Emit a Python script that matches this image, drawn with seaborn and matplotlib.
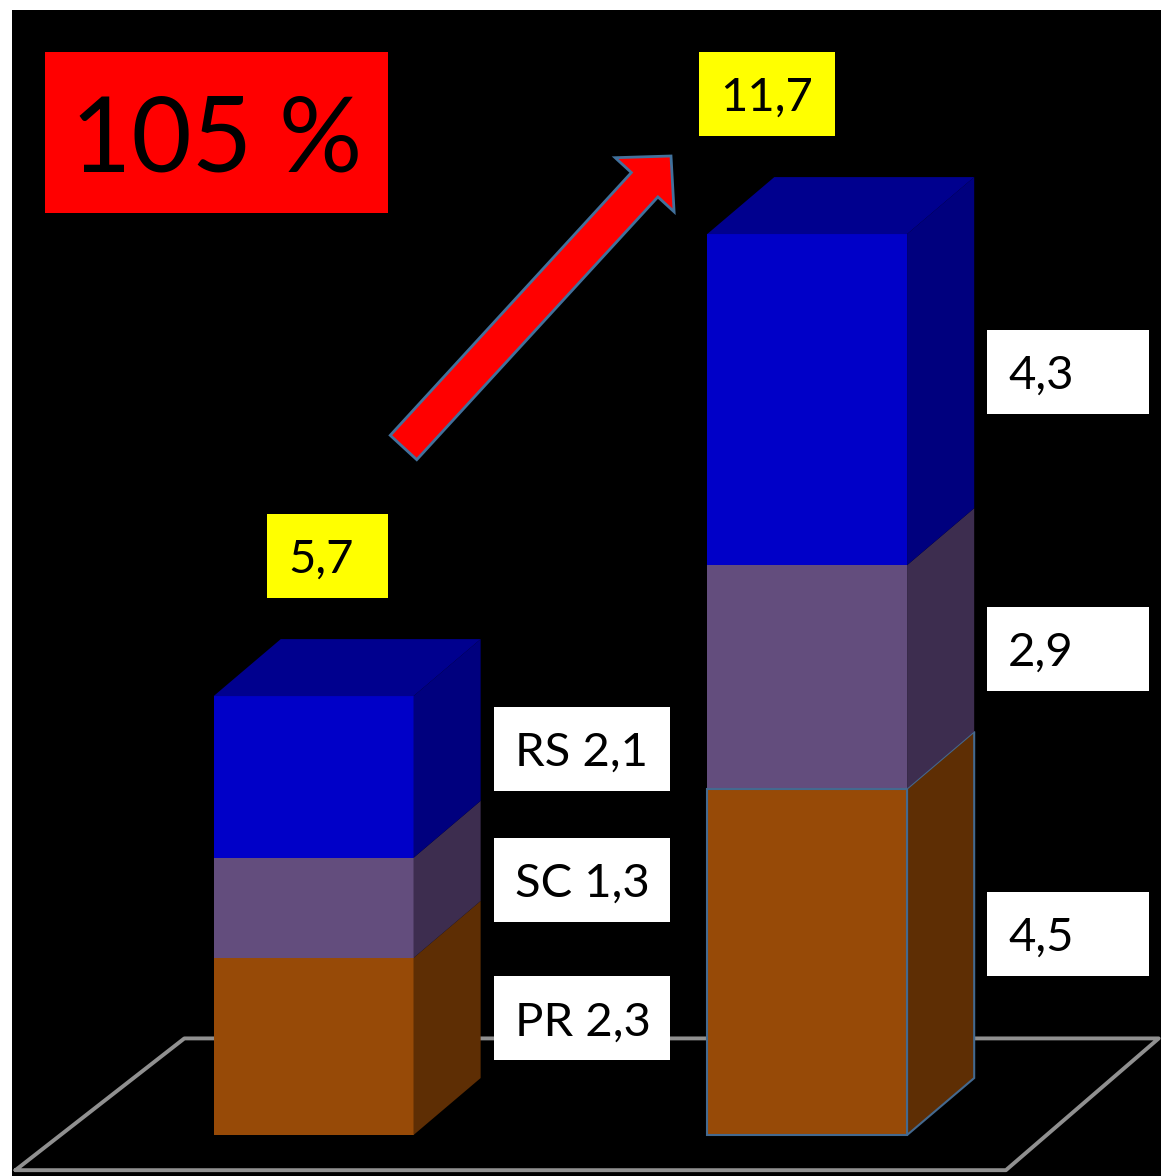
import matplotlib
matplotlib.use("Agg")
import matplotlib.pyplot as plt
import matplotlib.patches as mpatches
from matplotlib.transforms import IdentityTransform
import numpy as np
import pandas as pd
import seaborn as sns

# data
periods = ['Avant', 'Après']
segments = ['PR', 'SC', 'RS']
pr_values = [2.3, 4.5]
sc_values = [1.3, 2.9]
rs_values = [2.1, 4.3]
growth_text = '105 %'

sns.set_theme(style='white')
plt.rcParams['font.family'] = ['Lato', 'DejaVu Sans']

W, H, DPI = 1161, 1176, 100
BAR_W = 0.405
DX, DY = 0.136, 0.74          # fake 3D depth in data units

front = {'PR': '#974A07', 'SC': '#634D7D', 'RS': '#0000C8'}
side = {'PR': '#5E2E04', 'SC': '#3D2D4F', 'RS': '#00007E'}
TOP = '#00008E'


def fmt(v):
    return f'{v:.1f}'.replace('.', ',')


df = pd.DataFrame({'period': periods, 'PR': pr_values, 'SC': sc_values, 'RS': rs_values})
df['PR+SC'] = df['PR'] + df['SC']
df['total'] = df['PR+SC'] + df['RS']

fig = plt.figure(figsize=(W / DPI, H / DPI), dpi=DPI, facecolor='white')
ax = fig.add_axes([12 / W, 0, 1 - 12 / W, 1 - 10 / H])
ax.set_facecolor('black')

# stacked bars: draw cumulative sums from the tallest down
for col, c in [('total', front['RS']), ('PR+SC', front['SC']), ('PR', front['PR'])]:
    sns.barplot(data=df, x='period', y=col, color=c, saturation=1, width=BAR_W,
                errorbar=None, linewidth=0, ax=ax)

ax.set_xlim(-0.611, 1.717)
ax.set_ylim(-0.532, 14.61)
ax.set_xticks([])
ax.set_yticks([])
ax.set_xlabel('')
ax.set_ylabel('')
for s in ax.spines.values():
    s.set_visible(False)

# outline on the lower right segment
ax.patches[-1].set_edgecolor('#44698f')
ax.patches[-1].set_linewidth(1.5)

# floor (drawn behind the bars)
floor_x = [0.003, 0.865, 0.998, 0.150, 0.003]
floor_y = [0.005, 0.005, 0.118, 0.118, 0.005]
ax.plot(floor_x, floor_y, color='#909090', lw=2.8, transform=ax.transAxes, zorder=0.5)

# side and top faces
for i in range(len(periods)):
    xl, xr = i - BAR_W / 2, i + BAR_W / 2
    bottoms = [0, df['PR'][i], df['PR+SC'][i]]
    tops = [df['PR'][i], df['PR+SC'][i], df['total'][i]]
    for seg, y0, y1 in zip(segments, bottoms, tops):
        ec = '#44698f' if (seg == 'PR' and i == 1) else 'none'
        ax.add_patch(mpatches.Polygon([(xr, y0), (xr + DX, y0 + DY), (xr + DX, y1 + DY), (xr, y1)],
                                      closed=True, fc=side[seg], ec=ec, lw=1.5))
    t = tops[-1]
    ax.add_patch(mpatches.Polygon([(xl, t), (xr, t), (xr + DX, t + DY), (xl + DX, t + DY)],
                                  closed=True, fc=TOP, ec='none'))

# value labels in white boxes
idt = IdentityTransform()
LABEL_FS = 34
cap = 0.72 * LABEL_FS * DPI / 72
box_w = [176, 162]
for i in range(len(periods)):
    xr = i + BAR_W / 2
    bottoms = [0, df['PR'][i], df['PR+SC'][i]]
    for seg, y0 in zip(segments, bottoms):
        v = df[seg][i]
        mid = y0 + v / 2
        ex, ey = ax.transData.transform((xr + DX, mid))
        ey += 28
        bx = ex + 13
        ax.add_patch(mpatches.Rectangle((bx, ey - 42), box_w[i], 84, fc='white', ec='none',
                                        transform=idt, zorder=3))
        txt = f'{seg} {fmt(v)}' if i == 0 else fmt(v)
        ax.text(bx + 21, ey - cap / 2, txt, fontsize=LABEL_FS, color='black',
                ha='left', va='baseline', transform=idt, zorder=4)

# totals in yellow boxes
total_dx = [14, -40]
total_w = [121, 136]
for i in range(len(periods)):
    cx, cy = ax.transData.transform((i, df['total'][i]))
    cx += total_dx[i]
    cy += 140
    bx = cx - total_w[i] / 2
    ax.add_patch(mpatches.Rectangle((bx, cy - 42), total_w[i], 84, fc='#FFFF00', ec='none',
                                    transform=idt, zorder=3))
    ax.text(bx + 21, cy - cap / 2, fmt(df['total'][i]), fontsize=LABEL_FS, color='black',
            ha='left', va='baseline', transform=idt, zorder=4)

# growth box
ax.add_patch(mpatches.Rectangle((45, H - 213), 343, 161, fc='#FF0000', ec='none',
                                transform=idt, zorder=3))
ax.text(71, H - 172, growth_text, fontsize=75, color='black', ha='left', va='baseline',
        transform=idt, zorder=4)

# arrow
ax.add_patch(mpatches.FancyArrow(403.5, H - 447.5, 671 - 403.5, 447.5 - 156, width=36,
                                 head_width=80, head_length=39, length_includes_head=True,
                                 fc='#FF0000', ec='#41719c', lw=2, transform=idt, zorder=3))

fig.savefig('out.png', dpi=DPI, facecolor='white')
